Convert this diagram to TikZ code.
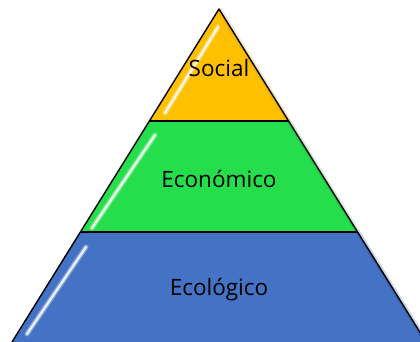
\documentclass[tikz,border=0pt]{standalone}
\usepackage{fontspec}
\setmainfont{Open Sans}
\definecolor{cSoc}{HTML}{FFC000}
\definecolor{cEco}{HTML}{24DE4B}
\definecolor{cEcl}{HTML}{4472C4}
\tikzset{
  layer/.style={draw=black, line width=1.4pt, line join=round},
  lbl/.style={font=\fontsize{22.5}{26}\selectfont, text=black, inner sep=0pt},
  gloss/.style={white, line cap=round, line width=2.2pt, opacity=0.85},
  glosswide/.style={white, line cap=round, line width=5pt, opacity=0.35},
}
\begin{document}
\begin{tikzpicture}[x=1pt,y=-1pt]
\useasboundingbox (0,0) rectangle (420,342);
\clip (0,0) rectangle (420,342);
% coordinates
\coordinate (apex) at (219,9);
\coordinate (l1) at (149.4,121);
\coordinate (r1) at (288.6,121);
\coordinate (l2) at (80.4,232);
\coordinate (r2) at (357.6,232);
\coordinate (l3) at (12,342);
\coordinate (r3) at (426,342);
% layers
\fill[cEcl] (l2) -- (r2) -- (r3) -- (l3) -- cycle;
\fill[cEco] (l1) -- (r1) -- (r2) -- (l2) -- cycle;
\fill[cSoc] (apex) -- (r1) -- (l1) -- cycle;
% soft darker rims
\draw[cEcl!75!black, line width=5pt, opacity=0.25] (r2) -- (r3);
\draw[cEco!75!black, line width=5pt, opacity=0.2] (r1) -- (r2);
\draw[cSoc!75!black, line width=5pt, opacity=0.2] (apex) -- (r1);
% gloss streaks
\draw[glosswide] (218,27) -- (165,113);
\draw[gloss] (218,27) -- (165,113);
\draw[glosswide] (155,135) -- (92,228);
\draw[gloss] (155,135) -- (92,228);
\draw[glosswide] (86,247) -- (27,334);
\draw[gloss] (86,247) -- (27,334);
% outlines
\draw[layer] (l3) -- (l2) -- (l1) -- (apex) -- (r1) -- (r2) -- (r3);
\draw[layer] (l1) -- (r1);
\draw[layer] (l2) -- (r2);
% labels
\node[lbl] (social) at (219,68) {Social};
\node[lbl] (economico) at (219,179) {Económico};
\node[lbl] (ecologico) at (219,290) {Ecológico};
\end{tikzpicture}
\end{document}
